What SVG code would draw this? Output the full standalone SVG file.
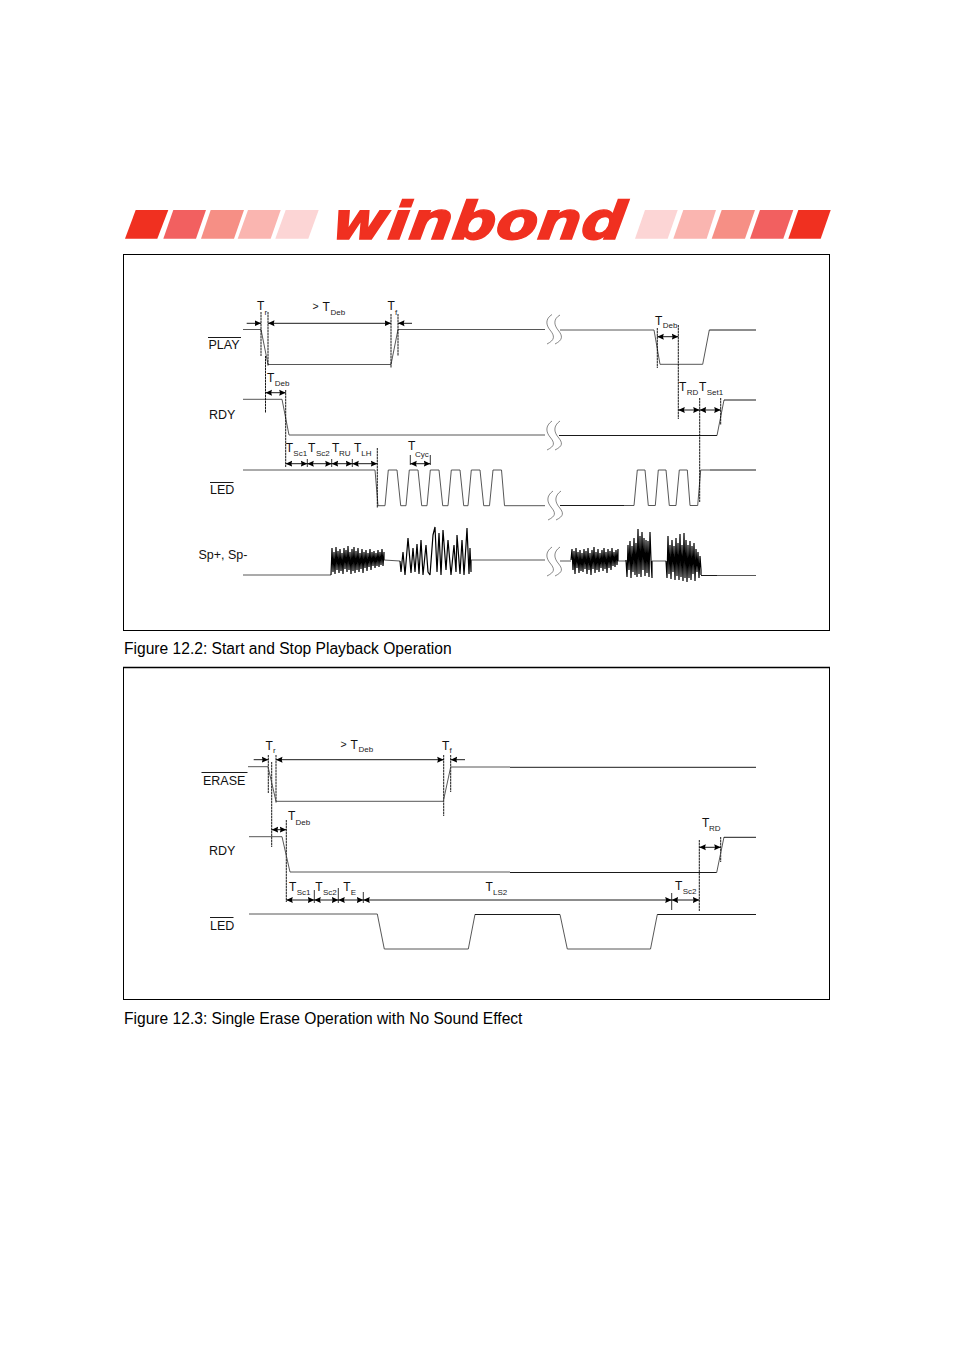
<svg xmlns="http://www.w3.org/2000/svg" width="954" height="1350" viewBox="0 0 954 1350">
<style>
text{font-family:"Liberation Sans",Arial,sans-serif;fill:#111}
.t{font-size:12px}.s{font-size:8px;fill:#222}.l{font-size:12.5px}.c{font-size:15.6px;fill:#000}
.sig{fill:none;stroke:#444;stroke-width:.9}
.k{fill:none;stroke:#000;stroke-width:.9}
.n{fill:none;stroke:#000;stroke-width:.8}
.nb{fill:none;stroke:#000;stroke-width:1.2;stroke-linejoin:bevel}
.d{fill:none;stroke:#000;stroke-width:.9;stroke-dasharray:2.5 .5}
.a{fill:none;stroke:#000;stroke-width:.9;marker-start:url(#as);marker-end:url(#ae)}
.e{fill:none;stroke:#000;stroke-width:.9;marker-end:url(#ae)}
.b{fill:none;stroke:#555;stroke-width:.7}
.o{fill:none;stroke:#000;stroke-width:.9}
.p{fill:none;stroke:#000;stroke-width:1}
</style>
<defs>
<marker id="ae" markerUnits="userSpaceOnUse" markerWidth="7" markerHeight="7" refX="6.5" refY="3.5" orient="auto"><path d="M0 .5L6.5 3.5L0 6.5L.8 3.5Z" fill="#000"/></marker>
<marker id="as" markerUnits="userSpaceOnUse" markerWidth="7" markerHeight="7" refX=".5" refY="3.5" orient="auto"><path d="M7 .5L.5 3.5L7 6.5L6.2 3.5Z" fill="#000"/></marker>
</defs>
<g id="logo">
<path fill="#f03020" d="M125 238.7L157.3 238.7L168.3 210L135.7 210Z"/>
<path fill="#f26060" d="M163.3 238.7L196 238.7L206 210L173.3 210Z"/>
<path fill="#f68f85" d="M201 238.7L234 238.7L244 210L210.7 210Z"/>
<path fill="#fab5b0" d="M237.7 238.7L270.7 238.7L280.7 210L248 210Z"/>
<path fill="#fcd5d5" d="M275.3 238.7L308.3 238.7L318.7 210L285.7 210Z"/>
<text x="330" y="239" textLength="293" lengthAdjust="spacingAndGlyphs" transform="translate(0 239) skewX(-8) translate(0 -239)" style="font-family:'DejaVu Sans',sans-serif;font-weight:bold;font-style:italic;font-size:52px;fill:#f03020;stroke:#f03020;stroke-width:1.4">winbond</text>
<path fill="#fcd5d5" d="M635 238.7L667.7 238.7L677.7 210L645 210Z"/>
<path fill="#fab5b0" d="M673.3 238.7L706.7 238.7L716 210L683.3 210Z"/>
<path fill="#f68f85" d="M711.7 238.7L745 238.7L755 210L721.7 210Z"/>
<path fill="#f26060" d="M750 238.7L783.3 238.7L793.3 210L760 210Z"/>
<path fill="#f03020" d="M788.3 238.7L820.7 238.7L830.7 210L798.3 210Z"/>
</g>
<g id="panel-12-2"><rect class="p" x="123.5" y="254.5" width="706" height="376"/></g>
<g id="panel-12-3"><rect class="p" x="123.5" y="667.5" width="706" height="332"/><path d="M123 667.5H830" stroke="#000" stroke-width="1.5"/></g>
<g id="captions">
<text class="c" x="124" y="654">Figure 12.2: Start and Stop Playback Operation</text>
<text class="c" x="124" y="1024">Figure 12.3: Single Erase Operation with No Sound Effect</text>
</g>
<g id="signal-play-1">
<text class="l" x="208.5" y="348.5">PLAY</text><path class="o" d="M208 337.5H241"/>
<path class="sig" d="M243 329.5H261L268 364.5H391L398 329.5H545"/>
<path class="sig" d="M560 330H654L660 364.3H702.7L709.3 330"/><path class="k" d="M709.3 330H756"/>
</g>
<g id="signal-rdy-1">
<text class="l" x="209" y="419">RDY</text>
<path class="sig" d="M243 399.3H282L289 435H545"/>
<path class="k" d="M559 435.5H717"/><path class="sig" d="M717 435.5L724 400"/><path class="k" d="M724 400H756"/>
</g>
<g id="signal-led-1">
<text class="l" x="210" y="494">LED</text><path class="o" d="M210 482.5H233.5"/>
<path class="sig" d="M243 470H375L378 505.7H385L388.3 470H397L400.7 505.7H406L409.3 470H418L421.7 505.7H427L430.3 470H439L442.7 505.7H448L451.3 470H460L463.7 505.7H468L471.3 470H480L483.7 505.7H489.5L493 470H501.5L504.5 505.7H545"/>
<path class="k" d="M560 505.5H624"/>
<path class="sig" d="M624 505.5H634L637.3 470H645L648.3 505.5H655.3L658.3 470H666L669.3 505.5H676L679.3 470H687.3L690 505.5H697.7L700.7 470H710"/><path class="k" d="M710 470H756"/>
</g>
<g id="signal-speaker">
<text class="l" x="198.5" y="559">Sp+, Sp-</text>
<path class="sig" d="M243 575H331"/>
<polyline class="nb" points="331,575 332,548 333,572 334,552 335,574 336,547 337,570 338,551 339,573 340,549 341,571 342,553 343,574 344,548 345,569 346,550 347,572 348,546 349,570 350,552 351,574 352,549 353,571 354,547 355,573 356,551 357,570 358,548 359,572 360,553 361,569 362,549 363,573 364,552 365,568 366,550 367,571 368,553 369,567 370,549 371,570 372,552 373,566 374,551 375,568 376,553 377,566 378,550 379,567 380,552 381,565 382,549 383,566 384,552 384,560"/>
<path class="sig" d="M384 560L400 561"/>
<polyline class="nb" points="400,561 401,572 403,552 405,575 408,538 411,573 413,548 415,572 417,544 419,574 421,540 423,575 426,545 428,572 430,575 433,535 435,527 437,572 439,533 441,575 443,530 446,570 448,540 451,575 454,545 456,572 457,535 460,574 462,540 464,575 466,545 467,528 469,574 470,548 471,572 471,560"/>
<path class="sig" d="M471 560H545"/>
<path class="sig" d="M560 561H571"/>
<polyline class="nb" points="571,560 572,549 573,570 574,551 575,574 576,548 577,568 578,552 579,573 580,550 581,571 582,553 583,572 584,549 585,569 586,551 587,574 588,548 589,570 590,553 591,575 592,550 593,569 594,547 595,573 596,552 597,570 598,549 599,572 600,553 601,568 602,550 603,571 604,548 605,569 606,552 607,573 608,549 609,568 610,551 611,570 612,548 613,566 614,552 615,567 616,550 617,565 618,549 618,561"/>
<path class="sig" d="M618 561H626"/>
<polyline class="nb" points="626,560 627,577 628,545 629,570 630,541 631,578 632,546 633,572 634,538 635,575 636,543 637,577 638,529 639,574 640,536 641,577 642,532 643,570 644,538 645,576 646,540 647,573 648,541 649,577 650,532 651,560 652,578 652,561"/>
<path class="sig" d="M652 561H666"/>
<polyline class="nb" points="666,561 667,578 668,536 669,574 670,545 671,579 672,540 673,572 674,546 675,580 676,538 677,576 678,543 679,580 680,534 681,577 682,545 683,581 684,533 685,578 686,540 687,582 688,545 689,578 690,541 691,580 692,546 693,574 694,543 695,581 696,549 697,572 698,552 699,578 700,556 701,570 701,575"/>
<path class="k" d="M701 575.5H717"/><path class="sig" d="M717 575.5H756"/>
</g>
<g id="breaks-1">
<path class="b" d="M552 314.5C545 319 546 325 550 330C555 336 555 340 547 344M560 315C553 319 554 325 558 330C563 336 563 340 555 344"/>
<path class="b" d="M552 421C545 426 546 432 550 437C555 443 555 446 547 450M560 421C553 426 554 432 558 437C563 443 563 446 555 450"/>
<path class="b" d="M553 491C546 496 547 502 551 507C556 513 556 516 548 520M561 491C554 496 555 502 559 507C564 513 564 516 556 520"/>
<path class="b" d="M552 547C545 552 546 558 550 563C555 569 555 572 547 576M560 547C553 552 554 558 558 563C563 569 563 572 555 576"/>
</g>
<g id="connectors">
<path class="d" d="M261 312V356M268 312V366M391 314V368M398 314V356M265.5 356V413M285.7 390V467M377.3 448V508M657.3 328V368M678.3 325V419M699.7 398V502M720.7 398V425"/>
<path class="n" d="M307.3 459V467M331.7 459V467M352.3 459V467M410.3 455V465M430.3 455V465"/>
<path class="e" d="M246.7 323.3H261"/><path class="a" d="M268 323.3H391"/><path class="e" d="M412 323.3H398"/>
<path class="a" d="M265.5 392.7H285.7"/>
<path class="a" d="M285.7 463.7H307.3"/><path class="a" d="M307.3 463.7H331.7"/><path class="a" d="M331.7 463.7H352.3"/><path class="a" d="M352.3 463.7H377.3"/>
<path class="a" d="M410.3 463.7H430.3"/>
<path class="a" d="M657.3 336.7H678.3"/><path class="a" d="M678.3 410H699.7"/><path class="a" d="M699.7 410H720.7"/>
<path class="d" d="M268.3 755V793M276 755V803M271.7 762V847M443.7 755V816M450.7 755V792M286.3 820V902M699.3 840V911M720.7 837V862"/>
<path class="n" d="M314.3 890V903M338.3 888V903M363.3 892V903M671.7 893V910"/>
<path class="e" d="M253.7 759.7H268.3"/><path class="a" d="M276 759.7H443.7"/><path class="e" d="M465 759.7H450.7"/>
<path class="a" d="M271.7 829.7H286.3"/>
<path class="a" d="M286.3 900H314.3"/><path class="a" d="M314.3 900H338.3"/><path class="a" d="M338.3 900H363.3"/><path class="a" d="M363.3 900H671.7"/><path class="a" d="M671.7 900H699.3"/>
<path class="a" d="M699.3 847.3H720.7"/>
</g>
<g id="timing-labels-1">
<text class="t" x="257" y="310">T</text><text class="s" x="264.5" y="315">r</text>
<text class="t" x="312.5" y="310" style="font-size:10.5px">&gt;</text><text class="t" x="322.5" y="311">T</text><text class="s" x="330.5" y="315">Deb</text>
<text class="t" x="387.5" y="310">T</text><text class="s" x="395" y="315">f</text>
<text class="t" x="267" y="382">T</text><text class="s" x="274.7" y="386">Deb</text>
<text class="t" x="285.7" y="452">T</text><text class="s" x="293.3" y="455.5">Sc1</text>
<text class="t" x="308" y="452">T</text><text class="s" x="316" y="455.5">Sc2</text>
<text class="t" x="332" y="452">T</text><text class="s" x="339" y="455.5">RU</text>
<text class="t" x="354" y="452">T</text><text class="s" x="361.3" y="455.5">LH</text>
<text class="t" x="408" y="450">T</text><text class="s" x="415" y="456.5">Cyc</text>
<text class="t" x="655" y="324.5">T</text><text class="s" x="662.7" y="328">Deb</text>
<text class="t" x="679" y="391">T</text><text class="s" x="686.7" y="395">RD</text>
<text class="t" x="699" y="391">T</text><text class="s" x="706.7" y="395">Set1</text>
</g>
<g id="signal-erase">
<text class="l" x="203" y="785">ERASE</text><path class="o" d="M201.5 772.5H247.5"/>
<path class="sig" d="M248 766.7H268L276 801.3H443.3L450.7 767H510"/><path class="k" d="M510 767.3H756"/>
</g>
<g id="signal-rdy-2">
<text class="l" x="209" y="855">RDY</text>
<path class="sig" d="M249 836.7H282L290 872H510"/><path class="k" d="M510 872.5H716.7"/><path class="sig" d="M716.7 872.5L724 837"/><path class="k" d="M724 837.3H756"/>
</g>
<g id="signal-led-2">
<text class="l" x="210" y="929.5">LED</text><path class="o" d="M210 917.5H233.5"/>
<path class="sig" d="M249 914H377.3L384.3 949H468.3L475 914.3"/><path class="k" d="M475 914.5H560"/><path class="sig" d="M560 914.5L567.3 949H650.5L657.3 914.5"/><path class="k" d="M657.3 914.5H756"/>
</g>
<g id="timing-labels-2">
<text class="t" x="265.5" y="749.5">T</text><text class="s" x="273" y="752.5">r</text>
<text class="t" x="340.5" y="747.5" style="font-size:10.5px">&gt;</text><text class="t" x="350.5" y="748.5">T</text><text class="s" x="358.5" y="752">Deb</text>
<text class="t" x="442" y="749.5">T</text><text class="s" x="449.5" y="752.5">f</text>
<text class="t" x="288" y="820">T</text><text class="s" x="295.5" y="825">Deb</text>
<text class="t" x="289" y="890.7">T</text><text class="s" x="296.7" y="894.5">Sc1</text>
<text class="t" x="315.3" y="890.7">T</text><text class="s" x="323" y="894.5">Sc2</text>
<text class="t" x="343.3" y="890.7">T</text><text class="s" x="350.7" y="894.5">E</text>
<text class="t" x="485.5" y="890.7">T</text><text class="s" x="493" y="894.5">LS2</text>
<text class="t" x="675" y="889.5">T</text><text class="s" x="682.7" y="893.5">Sc2</text>
<text class="t" x="702" y="827">T</text><text class="s" x="709" y="831">RD</text>
</g>
</svg>
